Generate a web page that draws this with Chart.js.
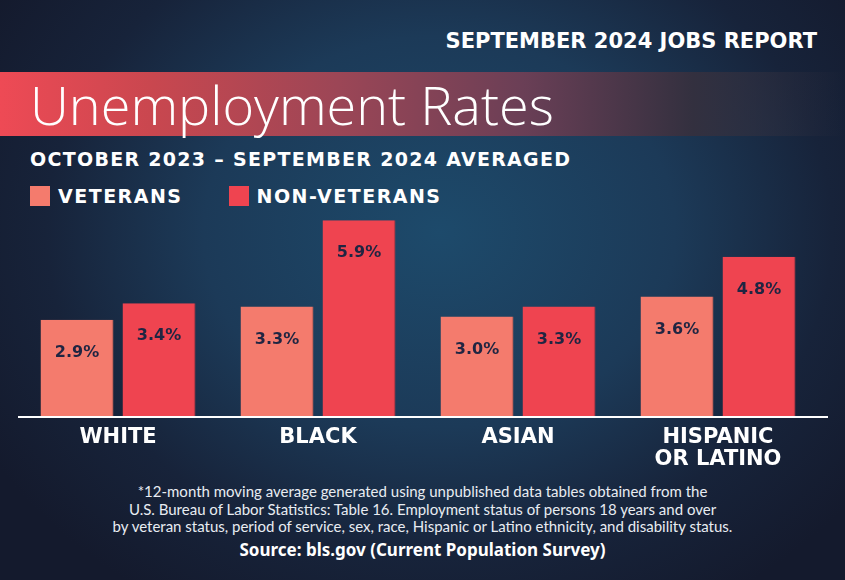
<!DOCTYPE html>
<html>
<head>
<meta charset="utf-8">
<script src="https://cdn.jsdelivr.net/npm/chart.js@4"></script>
<style>
  html, body { margin: 0; padding: 0; }
  body {
    width: 845px; height: 580px; position: relative; overflow: hidden;
    background: radial-gradient(ellipse 62% 75% at 52% 40%, #1d4a6b 0%, #1c3a58 45%, #17233a 75%, #141a2d 100%);
    font-family: "DejaVu Sans", sans-serif; color: #fff;
  }
  .abs { position: absolute; }
  #report { right: 28px; top: 29px; font-weight: 700; font-size: 21px; }
  #band {
    left: 0; top: 72px; width: 845px; height: 64px;
    background: linear-gradient(to right, #ee4a55 0%, #c9474f 18%, #9c4656 40%, #6a3f56 62%, #33303f 82%, rgba(20,26,45,0) 100%);
  }
  #title { left: 30px; top: 67px; font-family: "Open Sans", sans-serif; font-weight: 300; font-size: 54px; }
  #subtitle { left: 30px; top: 148px; font-weight: 700; font-size: 19px; letter-spacing: 1.3px; }
  #legend { left: 30px; top: 183px; display: flex; font-weight: 700; font-size: 19px; line-height: 26px; letter-spacing: 1.5px; }
  .item { display: flex; align-items: center; margin-right: 46px; }
  .sw { width: 20px; height: 20px; margin-right: 8px; }
  #foot { left: 0; width: 845px; top: 483px; text-align: center; font-family: Lato, sans-serif; font-size: 15px; line-height: 17.5px; color: #e8ecf2; }
  #source { left: 0; width: 845px; top: 538px; text-align: center; font-family: "Noto Sans", sans-serif; font-weight: 700; font-size: 17px; }
  canvas { position: absolute; left: 0; top: 0; }
</style>
</head>
<body>
<div class="abs" id="report">SEPTEMBER 2024 JOBS REPORT</div>
<div class="abs" id="band"></div>
<div class="abs" id="title">Unemployment Rates</div>
<div class="abs" id="subtitle">OCTOBER 2023 – SEPTEMBER 2024 AVERAGED</div>
<div class="abs" id="legend"></div>
<div class="abs" id="foot">*12-month moving average generated using unpublished data tables obtained from the<br>U.S. Bureau of Labor Statistics: Table 16. Employment status of persons 18 years and over<br>by veteran status, period of service, sex, race, Hispanic or Latino ethnicity, and disability status.</div>
<div class="abs" id="source">Source: bls.gov (Current Population Survey)</div>
<div style="position:absolute;left:0;top:0;width:845px;height:580px;">
  <canvas id="chart"></canvas>
</div>
<script>
const categories = [["WHITE"], ["BLACK"], ["ASIAN"], ["HISPANIC", "OR LATINO"]];
const seriesNames = ["VETERANS", "NON-VETERANS"];
const veterans = [2.9, 3.3, 3.0, 3.6];
const nonVeterans = [3.4, 5.9, 3.3, 4.8];
const colors = ["#f47b6d", "#ef4450"];
const edgeColors = ["#c8665d", "#b83a47"];

// legend built from the series names
const legend = document.getElementById("legend");
seriesNames.forEach((name, i) => {
  legend.innerHTML += `<div class="item"><span class="sw" style="background:${colors[i]}"></span>${name}</div>`;
});

// value labels inside the top of each bar
const valueLabels = {
  id: "valueLabels",
  afterDatasetsDraw(chart) {
    const ctx = chart.ctx;
    ctx.save();
    ctx.font = "700 16px 'DejaVu Sans', sans-serif";
    ctx.fillStyle = "#1f2542";
    ctx.textAlign = "center";
    ctx.textBaseline = "middle";
    chart.data.datasets.forEach((ds, i) => {
      chart.getDatasetMeta(i).data.forEach((bar, j) => {
        ctx.fillText(ds.data[j].toFixed(1) + "%", bar.x, bar.y + 33);
      });
    });
    ctx.restore();
  },
};

// white baseline, a bit wider than the plot
const baseline = {
  id: "baseline",
  afterDatasetsDraw(chart) {
    const ctx = chart.ctx;
    const y = chart.scales.y.getPixelForValue(0);
    ctx.save();
    ctx.strokeStyle = "#ffffff";
    ctx.lineWidth = 2;
    ctx.beginPath();
    ctx.moveTo(chart.chartArea.left, y + 1);
    ctx.lineTo(chart.chartArea.right + 10, y + 1);
    ctx.stroke();
    ctx.restore();
  },
};

new Chart(document.getElementById("chart"), {
  type: "bar",
  data: {
    labels: categories,
    datasets: [
      { label: seriesNames[0], data: veterans, backgroundColor: colors[0], borderColor: edgeColors[0] },
      { label: seriesNames[1], data: nonVeterans, backgroundColor: colors[1], borderColor: edgeColors[1] },
    ],
  },
  options: {
    responsive: true,
    maintainAspectRatio: false,
    animation: false,
    categoryPercentage: 0.82,
    barPercentage: 0.89,
    datasets: { bar: { borderWidth: { top: 0, right: 1.5, bottom: 0, left: 0 }, borderSkipped: false } },
    layout: { padding: { left: 18, right: 27, top: 217, bottom: 98 } },
    plugins: { legend: { display: false }, tooltip: { enabled: false } },
    scales: {
      x: {
        grid: { display: false, drawTicks: false },
        border: { display: false },
        ticks: {
          color: "#ffffff",
          padding: 11,
          font: { family: "'DejaVu Sans', sans-serif", size: 21, weight: "700", lineHeight: 1.05 },
          maxRotation: 0,
          autoSkip: false,
        },
      },
      y: { display: false, min: 0, max: 6 },
    },
  },
  plugins: [valueLabels, baseline],
});
</script>
</body>
</html>
